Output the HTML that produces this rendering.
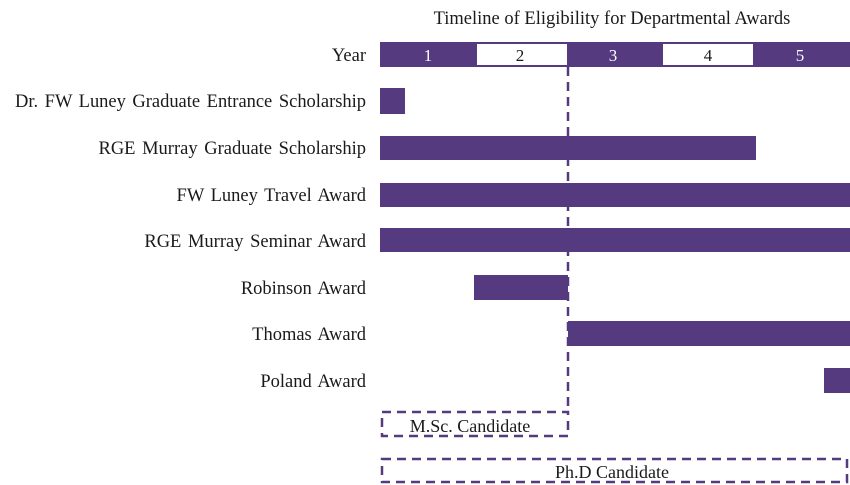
<!DOCTYPE html>
<html><head><style>body{margin:0;background:#fff}svg{display:block}text{font-family:"Liberation Serif",serif;fill:#1a1a1a}</style></head>
<body>
<svg width="850" height="485" viewBox="0 0 850 485">
<text x="612" y="24" font-size="18.5" text-anchor="middle">Timeline of Eligibility for Departmental Awards</text>
<g font-size="18.5" text-anchor="end" word-spacing="2">
<text x="366" y="61">Year</text>
<text x="366" y="107" textLength="351" lengthAdjust="spacing">Dr. FW Luney  Graduate Entrance  Scholarship</text>
<text x="366" y="154">RGE Murray  Graduate Scholarship</text>
<text x="366" y="201">FW Luney  Travel Award</text>
<text x="366" y="247">RGE Murray Seminar Award</text>
<text x="366" y="294">Robinson Award</text>
<text x="366" y="340">Thomas Award</text>
<text x="366" y="387">Poland Award</text>
</g>
<rect x="380" y="42" width="470" height="25" fill="#553a80"/>
<rect x="477" y="44" width="90" height="21" fill="#fff"/>
<rect x="663" y="44" width="90" height="21" fill="#fff"/>
<g font-size="17" text-anchor="middle">
<text x="428" y="61" style="fill:#fff">1</text>
<text x="520" y="61">2</text>
<text x="613" y="61" style="fill:#fff">3</text>
<text x="708" y="61">4</text>
<text x="800" y="61" style="fill:#fff">5</text>
</g>
<g fill="#553a80">
<rect x="380" y="88" width="25" height="26"/>
<rect x="380" y="136" width="376" height="24"/>
<rect x="380" y="183" width="470" height="24"/>
<rect x="380" y="228" width="470" height="24"/>
<rect x="474" y="275" width="94" height="25"/>
<rect x="568" y="321" width="282" height="25"/>
<rect x="824" y="368" width="26" height="25"/>
</g>
<g stroke="#553a80" stroke-width="2.5" fill="none" stroke-dasharray="9,6">
<line x1="568" y1="67" x2="568" y2="411"/>
<rect x="382" y="412" width="186" height="24"/>
<rect x="382" y="459" width="465" height="23"/>
</g>
<text x="470" y="432" font-size="18" text-anchor="middle">M.Sc. Candidate</text>
<text x="612" y="478" font-size="18" text-anchor="middle">Ph.D Candidate</text>
</svg>
</body></html>
